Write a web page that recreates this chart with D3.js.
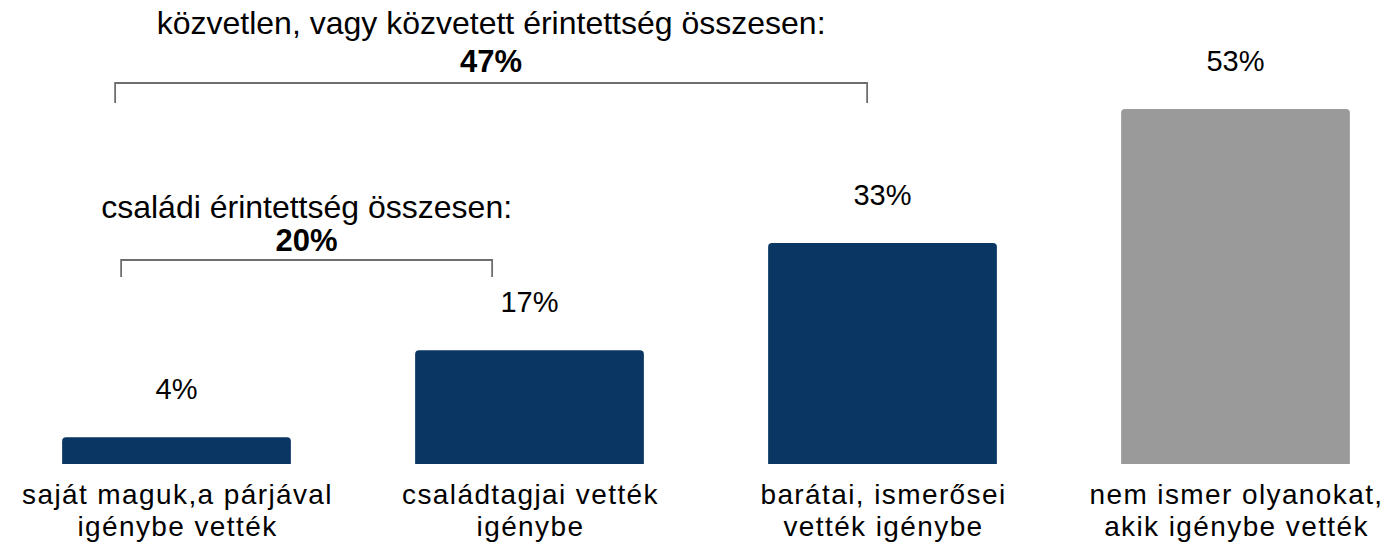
<!DOCTYPE html>
<html>
<head>
<meta charset="utf-8">
<script src="https://cdn.jsdelivr.net/npm/d3@7"></script>
<style>
    body { margin: 0; background: #fff; }
    svg text { font-family: "Liberation Sans", Arial, sans-serif; fill: #000; }
</style>
</head>
<body>
<svg width="1394" height="543"></svg>
<script>
// Chart data
var categories = [
    ['saját maguk,a párjával', 'igénybe vették'],
    ['családtagjai vették', 'igénybe'],
    ['barátai, ismerősei', 'vették igénybe'],
    ['nem ismer olyanokat,', 'akik igénybe vették']
];
var values = [4, 17, 33, 53];
var valueLabels = ['4%', '17%', '33%', '53%'];
var groupColors = ['navy', 'navy', 'navy', 'gray'];

// Summary brackets: first/last category index, title, total
var bracketFrom = [0, 0];
var bracketTo = [2, 1];
var bracketTitles = ['közvetlen, vagy közvetett érintettség összesen:', 'családi érintettség összesen:'];
var bracketTotals = ['47%', '20%'];

var svg = d3.select('svg');
var colors = {navy: '#0a3663', gray: '#9a9a9a'};

// Layout
var baseline = 464;
var xScale = d3.scaleBand()
    .domain(d3.range(values.length))
    .range([0, 1412])
    .paddingInner(0.352)
    .paddingOuter(0.176);

var yScale = d3.scaleLinear()
    .domain([0, 53])
    .range([baseline, 109]);

var bw = xScale.bandwidth();

// bar with rounded top corners
function barPath(x, y, w, h, r) {
    return 'M' + x + ',' + (y + h) +
        'V' + (y + r) +
        'Q' + x + ',' + y + ' ' + (x + r) + ',' + y +
        'H' + (x + w - r) +
        'Q' + (x + w) + ',' + y + ' ' + (x + w) + ',' + (y + r) +
        'V' + (y + h) + 'Z';
}

var barG = svg.append('g');
barG.selectAll('path.bar')
    .data(values)
    .enter()
    .append('path')
    .attr('class', 'bar')
    .attr('fill', function(d, i) { return colors[groupColors[i]]; })
    .attr('d', function(d, i) {
        var top = yScale(d);
        return barPath(xScale(i), top, bw, baseline - top, 4);
    });

// value labels
barG.selectAll('text.val')
    .data(values)
    .enter()
    .append('text')
    .attr('class', 'val')
    .attr('text-anchor', 'middle')
    .attr('font-size', 29)
    .attr('x', function(d, i) { return xScale(i) + bw / 2; })
    .attr('y', function(d) { return yScale(d) - 38; })
    .text(function(d, i) { return valueLabels[i]; });

// category labels, one text per line
categories.forEach(function(lines, i) {
    barG.selectAll('text.cat' + i)
        .data(lines)
        .enter()
        .append('text')
        .attr('class', 'cat' + i)
        .attr('text-anchor', 'middle')
        .attr('font-size', 28)
        .attr('letter-spacing', 1.4)
        .attr('x', xScale(i) + bw / 2 + 1)
        .attr('y', function(d, j) { return 504 + j * 31.5; })
        .text(function(d) { return d; });
});

// brackets
var bracketLayout = [
    {left: 53, right: 99, y: 83, drop: 20, titleY: 34, totalY: 72},
    {left: 59, right: 77, y: 260, drop: 17, titleY: 218, totalY: 251}
];

var brG = svg.append('g');
bracketTitles.forEach(function(title, i) {
    var lay = bracketLayout[i];
    var x0 = xScale(bracketFrom[i]) + lay.left;
    var x1 = xScale(bracketTo[i]) + lay.right;
    var cx = (x0 + x1) / 2;

    brG.append('path')
        .attr('fill', 'none')
        .attr('stroke', '#6e6e6e')
        .attr('stroke-width', 1.8)
        .attr('d', 'M' + x0 + ',' + (lay.y + lay.drop) + 'V' + lay.y + 'H' + x1 + 'V' + (lay.y + lay.drop));

    brG.append('text')
        .attr('text-anchor', 'middle')
        .attr('font-size', 32)
        .attr('x', cx)
        .attr('y', lay.titleY)
        .text(title);

    brG.append('text')
        .attr('text-anchor', 'middle')
        .attr('font-size', 31)
        .attr('font-weight', 'bold')
        .attr('x', cx)
        .attr('y', lay.totalY)
        .text(bracketTotals[i]);
});
</script>
</body>
</html>
